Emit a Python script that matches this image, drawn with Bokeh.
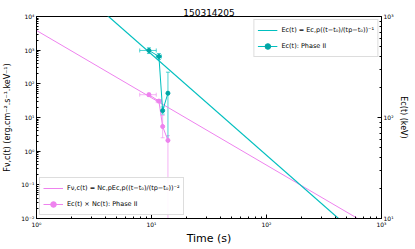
from bokeh.plotting import figure
from bokeh.models import (Range1d, LogAxis, LogScale, FixedTicker, Legend, LegendItem,
                          Whisker, TeeHead, ColumnDataSource, CustomJSTickFormatter)
from bokeh.embed import file_html
from bokeh.resources import INLINE

title = "150314205"
# Phase II data points
t_pts = [9.5, 11.6, 12.5, 13.9]
t_lo = [7.9, 11.0, 12.3, 13.7]
t_hi = [11.0, 12.2, 12.7, 14.1]
ec_pts = [461, 402, 117, 174]
ec_lo = [430, 375, 108, 59]
ec_hi = [490, 430, 127, 281]
f_pts = [47.5, 30.7, 5.4, 2.09]
f_lo = [42, 27.5, 2.5, 0.001]
f_hi = [53, 34, 11.5, 2.9]
# fitted power laws (end points)
t_fit = [1, 1000]
ec_fit = [4230, 4.23]
f_fit = [3845, 0.00385]

CYAN = "#00bfbf"
VIOL = "#ee82ee"
FONT = "DejaVu Sans"

p = figure(frame_width=345, frame_height=202, x_axis_type="log", y_axis_type="log",
           x_range=Range1d(1, 1000), y_range=Range1d(0.01, 1e4),
           output_backend="svg", toolbar_location=None,
           min_border_left=33, min_border_right=22, min_border_top=16, min_border_bottom=0)
p.extra_y_ranges = {"E": Range1d(10, 1000)}
p.extra_y_scales = {"E": LogScale()}

p.title.text = title
p.title.align = "center"
p.title.text_font = FONT
p.title.text_font_size = "9px"
p.title.text_font_style = "normal"
p.title.text_color = "black"
p.title.standoff = 1

p.grid.visible = False
p.outline_line_color = "#000000"
p.background_fill_color = "white"

fmt_code = """
const e = Math.round(Math.log10(tick));
const sup = {"-":"\u207b","0":"\u2070","1":"\u00b9","2":"\u00b2","3":"\u00b3","4":"\u2074","5":"\u2075","6":"\u2076","7":"\u2077","8":"\u2078","9":"\u2079"};
return "10" + String(e).split("").map(c => sup[c]).join("");
"""

def minors(lo, hi):
    out = []
    d = lo
    while d < hi:
        for k in range(2, 10):
            out.append(k * d)
        d *= 10
    return out

def style(ax):
    ax.major_tick_in = 4
    ax.major_tick_out = 0
    ax.minor_tick_in = 2
    ax.minor_tick_out = 0
    ax.axis_line_color = "black"
    ax.major_tick_line_color = "black"
    ax.minor_tick_line_color = "black"
    ax.major_label_text_font = FONT
    ax.major_label_text_font_size = "6px"
    ax.major_label_text_color = "black"
    ax.major_label_standoff = 2
    ax.axis_label_text_font = FONT
    ax.axis_label_text_font_style = "normal"
    ax.axis_label_text_color = "black"
    ax.axis_label_standoff = 2

xax = p.xaxis[0]
xax.ticker = FixedTicker(ticks=[1, 10, 100, 1000], minor_ticks=minors(1, 1000))
xax.formatter = CustomJSTickFormatter(code=fmt_code)
style(xax)
xax.axis_label = "Time (s)"
xax.axis_label_text_font_size = "11px"
xax.axis_label_standoff = 1

yax = p.yaxis[0]
yax.ticker = FixedTicker(ticks=[0.01, 0.1, 1, 10, 100, 1000, 10000], minor_ticks=minors(0.01, 10000))
yax.formatter = CustomJSTickFormatter(code=fmt_code)
style(yax)
yax.axis_label = "F\u03bd,c(t) (erg.cm\u207b\u00b2.s\u207b\u00b9.keV\u207b\u00b9)"
yax.axis_label_text_font_size = "8px"
yax.axis_label_standoff = 6

rax = LogAxis(y_range_name="E", ticker=FixedTicker(ticks=[10, 100, 1000], minor_ticks=minors(10, 1000)),
              formatter=CustomJSTickFormatter(code=fmt_code), axis_label="Ec(t) (keV)")
style(rax)
rax.axis_label_text_font_size = "8px"
p.add_layout(rax, "right")

# fitted lines
lf = p.line(t_fit, f_fit, line_color=VIOL, line_width=1)
le = p.line(t_fit, ec_fit, line_color=CYAN, line_width=1.2, y_range_name="E")

# flux data (left axis)
fsrc = ColumnDataSource(dict(t=t_pts, tl=t_lo, th=t_hi, y=f_pts, yl=f_lo, yh=f_hi))
p.add_layout(Whisker(source=fsrc, base="y", lower="tl", upper="th", dimension="width",
                     line_color=VIOL, line_alpha=0.6,
                     upper_head=TeeHead(size=4, line_color=VIOL, line_alpha=0.6),
                     lower_head=TeeHead(size=4, line_color=VIOL, line_alpha=0.6)))
p.add_layout(Whisker(source=fsrc, base="t", lower="yl", upper="yh", dimension="height",
                     line_color=VIOL, line_alpha=0.6,
                     upper_head=TeeHead(size=4, line_color=VIOL, line_alpha=0.6),
                     lower_head=TeeHead(size=4, line_color=VIOL, line_alpha=0.6)))
fl = p.line("t", "y", source=fsrc, line_color=VIOL, line_width=1)
fs = p.scatter("t", "y", source=fsrc, size=4, fill_color=VIOL, line_color=VIOL)

# Ec data (right axis)
esrc = ColumnDataSource(dict(t=t_pts, tl=t_lo, th=t_hi, y=ec_pts, yl=ec_lo, yh=ec_hi))
p.add_layout(Whisker(source=esrc, base="y", lower="tl", upper="th", dimension="width",
                     y_range_name="E", line_color=CYAN, line_alpha=0.7,
                     upper_head=TeeHead(size=4, line_color=CYAN, line_alpha=0.7),
                     lower_head=TeeHead(size=4, line_color=CYAN, line_alpha=0.7)))
p.add_layout(Whisker(source=esrc, base="t", lower="yl", upper="yh", dimension="height",
                     y_range_name="E", line_color=CYAN, line_alpha=0.7,
                     upper_head=TeeHead(size=4, line_color=CYAN, line_alpha=0.7),
                     lower_head=TeeHead(size=4, line_color=CYAN, line_alpha=0.7)))
el = p.line("t", "y", source=esrc, line_color=CYAN, line_width=1, y_range_name="E")
es = p.scatter("t", "y", source=esrc, size=4, fill_color="#00a6a6", line_color="#00a6a6", y_range_name="E")

def mk_legend(items, loc):
    lg = Legend(items=items, location=loc, label_text_font=FONT, label_text_font_size="6.5px",
                label_text_color="black",
                glyph_width=20, glyph_height=14, label_height=14, spacing=2, padding=3, margin=3,
                label_standoff=4, border_line_color="#bbbbbb", background_fill_alpha=0.9)
    return lg

leg1 = mk_legend([
    LegendItem(label="Ec(t) = Ec,p((t\u2212t\u2080)/(tp\u2212t\u2080))\u207b\u00b9", renderers=[le]),
    LegendItem(label="Ec(t): Phase II", renderers=[el, es]),
], "top_right")
leg2 = mk_legend([
    LegendItem(label="F\u03bd,c(t) = Nc,pEc,p((t\u2212t\u2080)/(tp\u2212t\u2080))\u207b\u00b2", renderers=[lf]),
    LegendItem(label="Ec(t) \u00d7 Nc(t): Phase II", renderers=[fl, fs]),
], "bottom_left")
p.add_layout(leg1, "center")
p.add_layout(leg2, "center")

open("out.html", "w").write(file_html(p, INLINE))
